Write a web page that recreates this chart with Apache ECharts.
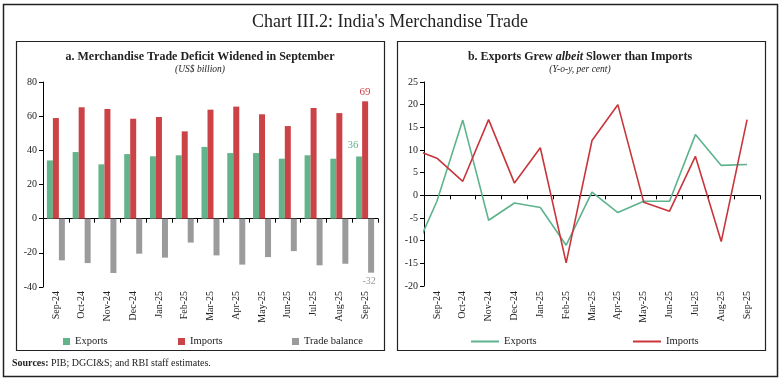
<!DOCTYPE html>
<html><head><meta charset="utf-8">
<script src="https://cdn.jsdelivr.net/npm/echarts@6/dist/echarts.min.js"></script>
<style>html,body{margin:0;padding:0;background:#fff}#c{width:781px;height:380px}</style>
</head><body><div id="c"></div>
<script>
const months = ['Sep-24','Oct-24','Nov-24','Dec-24','Jan-25','Feb-25','Mar-25','Apr-25','May-25','Jun-25','Jul-25','Aug-25','Sep-25'];
const exportsUSD = [34.1,39.0,31.8,37.8,36.5,37.1,42.0,38.4,38.4,35.1,37.1,35.1,36.4];
const importsUSD = [58.9,65.2,64.2,58.5,59.5,51.1,63.8,65.6,61.1,54.2,64.8,61.8,68.7];
const tradeBalance = [-24.4,-26.0,-31.8,-20.5,-22.8,-14.0,-21.5,-26.9,-22.5,-19.0,-27.3,-26.4,-31.6];
// growth rates (Y-o-y, per cent); the preceding month only shows as a clipped segment
const exportsYoYPrev = -14.1;
const importsYoYPrev = 10.4;
const exportsYoY = [-1.3,16.6,-5.5,-1.7,-2.7,-11.0,0.7,-3.8,-1.3,-1.3,13.4,6.6,6.8];
const importsYoY = [8.2,3.1,16.7,2.7,10.5,-14.9,12.1,20.0,-1.5,-3.5,8.6,-10.2,16.7];
const leftTicks = {min:-40, max:80, interval:20};
const rightTicks = {min:-20, max:25, interval:5};

const GREEN = '#63b38b', RED = '#cb4346', GRAY = '#9b9b9d';
const LGREEN = '#5db38c', LRED = '#c8363c';
const FONT = '"Liberation Serif", "DejaVu Serif", serif';

const chart = echarts.init(document.getElementById('c'), null, {renderer:'canvas'});
const last = months.length - 1;

function barData(arr, color, labelCfg){
  return arr.map((v,i)=> i===last ? {value:v, label:Object.assign({show:true, color:color, fontFamily:FONT, fontSize:11}, labelCfg)} : v);
}
function lineData(prev, arr, color, labelCfg){
  const d = [[-0.5, prev]];
  arr.forEach((v,i)=>{
    const item = {value:[i+0.5, v]};
    if(i===last){ item.label = Object.assign({show:true, color:color, fontFamily:FONT, fontSize:11, formatter: p=>p.value[1].toFixed(1)}, labelCfg); }
    d.push(item);
  });
  return d;
}

const axisCommonY = {
  type:'value', splitLine:{show:false},
  axisLine:{show:true, lineStyle:{color:'#000', width:1}},
  axisTick:{show:true, length:4, lineStyle:{color:'#000'}},
  axisLabel:{color:'#222', fontFamily:FONT, fontSize:10, margin:6}
};
const catAxis = (grid, margin) => ({
  type:'category', gridIndex:grid, data:months, boundaryGap:true,
  axisLine:{show:true, onZero:true, lineStyle:{color:'#000', width:1}},
  axisTick:{show:true, length:4, alignWithLabel:false, lineStyle:{color:'#000'}},
  axisLabel:{rotate:90, interval:0, color:'#222', fontFamily:FONT, fontSize:10, margin:margin}
});

const option = {
  animation:false,
  backgroundColor:'#fff',
  graphic:[
    {type:'rect', shape:{x:3.5, y:4.5, width:774, height:372}, style:{fill:'none', stroke:'#222', lineWidth:1.5}, silent:true},
    {type:'rect', shape:{x:16.5, y:41.5, width:368, height:309}, style:{fill:'none', stroke:'#222', lineWidth:1.2}, silent:true},
    {type:'rect', shape:{x:397.5, y:41.5, width:368, height:309}, style:{fill:'none', stroke:'#222', lineWidth:1.2}, silent:true},
    {type:'text', x:390, y:22, style:{text:"Chart III.2: India's Merchandise Trade", fill:'#222', font:'18px '+FONT, textAlign:'center', textVerticalAlign:'middle'}},
    {type:'text', x:200, y:57, style:{text:'a. Merchandise Trade Deficit Widened in September', fill:'#222', font:'bold 12px '+FONT, textAlign:'center', textVerticalAlign:'middle'}},
    {type:'text', x:200, y:69, style:{text:'(US$ billion)', fill:'#222', font:'italic 9.5px '+FONT, textAlign:'center', textVerticalAlign:'middle'}},
    {type:'text', x:580, y:57, style:{rich:{b:{font:'bold 12px '+FONT, fill:'#222'}, bi:{font:'bold italic 12px '+FONT, fill:'#222'}}, text:'{b|b. Exports Grew }{bi|albeit}{b| Slower than Imports}', textAlign:'center', textVerticalAlign:'middle'}},
    {type:'text', x:580, y:69, style:{text:'(Y-o-y, per cent)', fill:'#222', font:'italic 9.5px '+FONT, textAlign:'center', textVerticalAlign:'middle'}},
    {type:'text', x:12, y:363, style:{rich:{b:{font:'bold 10px '+FONT, fill:'#222'}, n:{font:'10px '+FONT, fill:'#222'}}, text:'{b|Sources:}{n| PIB; DGCI&S; and RBI staff estimates.}', textVerticalAlign:'middle'}}
  ],
  grid:[
    {left:43, top:82, width:335, height:205, outerBoundsMode:'none', containLabel:false},
    {left:424, top:82, width:336, height:204, outerBoundsMode:'none', containLabel:false}
  ],
  xAxis:[
    catAxis(0, 4),
    catAxis(1, 5),
    {type:'value', gridIndex:1, min:0, max:months.length, show:false}
  ],
  yAxis:[
    Object.assign({gridIndex:0}, axisCommonY, leftTicks),
    Object.assign({gridIndex:1}, axisCommonY, rightTicks)
  ],
  legend:[
    {data:['Exports'], left:58, top:331, icon:'rect', itemWidth:7, itemHeight:7, itemGap:4, textStyle:{fontFamily:FONT, fontSize:10.5, color:'#222'}},
    {data:['Imports'], left:173, top:331, icon:'rect', itemWidth:7, itemHeight:7, textStyle:{fontFamily:FONT, fontSize:10.5, color:'#222'}},
    {data:['Trade balance'], left:287, top:331, icon:'rect', itemWidth:7, itemHeight:7, textStyle:{fontFamily:FONT, fontSize:10.5, color:'#222'}},
    {data:['Exports '], left:466, top:331, icon:'rect', itemWidth:28, itemHeight:2, textStyle:{fontFamily:FONT, fontSize:10.5, color:'#222'}},
    {data:['Imports '], left:628, top:331, icon:'rect', itemWidth:28, itemHeight:2, textStyle:{fontFamily:FONT, fontSize:10.5, color:'#222'}}
  ],
  series:[
    {name:'Exports', type:'bar', xAxisIndex:0, yAxisIndex:0, barWidth:6, barGap:'0%', itemStyle:{color:GREEN},
      data:barData(exportsUSD, GREEN, {position:'top', offset:[-6,-1], formatter: p=>Math.round(p.value)})},
    {name:'Imports', type:'bar', xAxisIndex:0, yAxisIndex:0, barWidth:6, barGap:'0%', itemStyle:{color:RED},
      data:barData(importsUSD, RED, {position:'top', offset:[0,1], formatter: p=>Math.round(p.value)})},
    {name:'Trade balance', type:'bar', xAxisIndex:0, yAxisIndex:0, barWidth:6, barGap:'0%', itemStyle:{color:GRAY},
      data:barData(tradeBalance, GRAY, {position:'bottom', fontSize:10, offset:[-2,-1], formatter: p=>Math.round(p.value)})},
    {name:'Exports ', type:'line', xAxisIndex:2, yAxisIndex:1, symbol:'none', clip:true, lineStyle:{color:LGREEN, width:1.6}, itemStyle:{color:LGREEN},
      data:lineData(exportsYoYPrev, exportsYoY, LGREEN, {position:'bottom', distance:9})},
    {name:'Imports ', type:'line', xAxisIndex:2, yAxisIndex:1, symbol:'none', clip:true, lineStyle:{color:LRED, width:1.6}, itemStyle:{color:LRED},
      data:lineData(importsYoYPrev, importsYoY, LRED, {position:'top', distance:9})}
  ]
};
chart.setOption(option);
</script>
</body></html>
